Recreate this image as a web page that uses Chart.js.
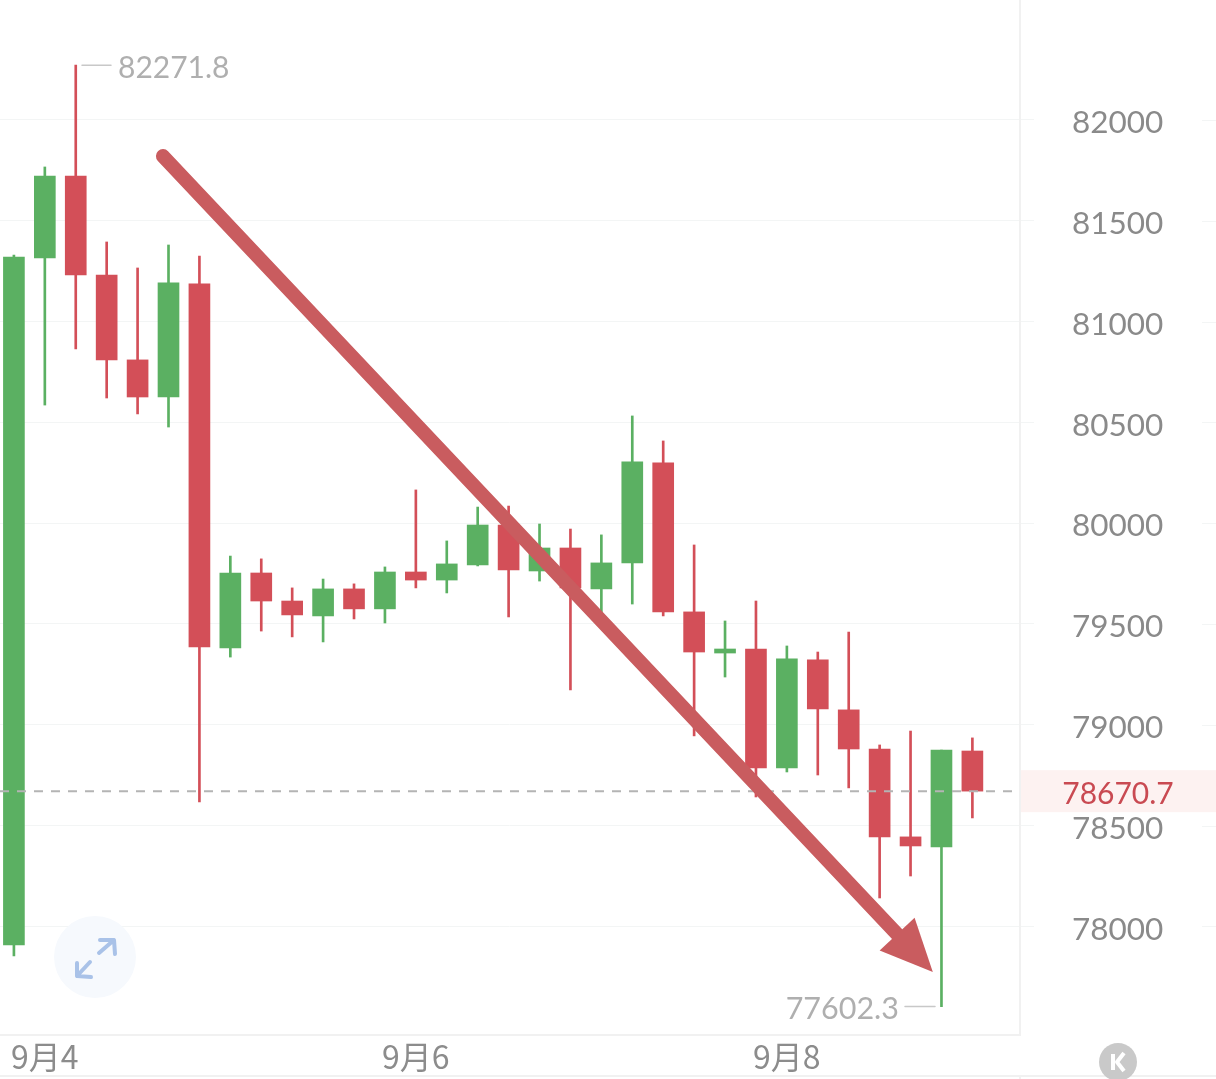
<!DOCTYPE html>
<html><head><meta charset="utf-8">
<style>html,body{margin:0;padding:0;background:#fff}canvas{display:block}</style>
<script src="https://cdn.jsdelivr.net/npm/chart.js@4"></script>
</head><body>
<canvas id="c" width="1216" height="1079"></canvas>
<script>
const opens  = [77908,81316,81722,81231,80810,80626,81187,79381,79753,79614,79540,79674,79575,79758,79718,79793,79991,79763,79877,79674,79803,80299,79560,79356,79376,78786,79322,79074,78880,78444,78394,78870];
const closes = [81320,81722,81231,80810,80626,81192,79386,79753,79614,79545,79674,79575,79758,79718,79798,79991,79768,79877,79679,79803,80304,79560,79361,79376,78786,79327,79079,78880,78444,78399,78875,78671];
const highs  = [81330,81767,82271.8,81395,81266,81380,81325,79837,79823,79679,79723,79699,79783,80165,79912,80080,80085,79996,79971,79942,80532,80408,79892,79515,79614,79391,79361,79460,78900,78969,78875,78935];
const lows   = [77853,80586,80864,80621,80542,80477,78617,79336,79465,79436,79411,79525,79505,79679,79654,79788,79535,79713,79173,79560,79599,79540,78945,79237,78642,78766,78751,78687,78141,78250,77602.3,78538];
const yTicks = [78000,78500,79000,79500,80000,80500,81000,81500,82000];
const xTickIdx = [1,13,25];
const xTickLabels = ['9月4','9月6','9月8'];
const lastPrice = 78670.7;
const highLabel = '82271.8', lowLabel = '77602.3';
const arrowFrom = [4.82,81821], arrowTip = [29.72,77774];
const priceLine = [-0.45,32.4];

const GREEN='#5bb062', RED='#d34f58', GRID='#f3f5f5', LINE='#f1f1f1';
const FONT='Lato, "Noto Sans", sans-serif';
const colors = opens.map((o,i)=>closes[i]>=o?GREEN:RED);

const overlay = {
  id:'overlay',
  beforeDatasetsDraw(ch){
    const g=ch.ctx, y=ch.scales.y;
    g.save();
    g.fillStyle='#fdf2f1'; const py=y.getPixelForValue(lastPrice);
    g.fillRect(1021,py-21,195,42);
    g.strokeStyle=GRID; g.lineWidth=1;
    yTicks.forEach(t=>{const p=Math.round(y.getPixelForValue(t))+.5;g.beginPath();g.moveTo(1202,p);g.lineTo(1216,p);g.stroke();});
    g.fillStyle=LINE; g.fillRect(0,1075,1216,2); g.fillRect(1019,1077,2,2);
    g.fillStyle='#f6f9fd'; g.beginPath(); g.arc(95,957,41,0,Math.PI*2); g.fill();
    g.strokeStyle='#a9c2e8'; g.lineWidth=4; g.lineCap='round'; g.lineJoin='round';
    g.beginPath(); g.moveTo(99,953); g.lineTo(114,940); g.moveTo(100,940); g.lineTo(114,940); g.lineTo(115,954);
    g.moveTo(90,962); g.lineTo(77,976); g.moveTo(77,963); g.lineTo(77,976); g.lineTo(91,977); g.stroke();
    g.fillStyle='#c9c9c9'; g.beginPath(); g.arc(1118,1062,19,0,Math.PI*2); g.fill();
    g.strokeStyle='#fff'; g.lineWidth=4; g.lineCap='butt';
    g.beginPath(); g.moveTo(1113,1054); g.lineTo(1113,1070); g.stroke();
    g.beginPath(); g.moveTo(1124,1053); g.lineTo(1117,1062); g.lineTo(1124,1071); g.stroke();
    g.restore();
  },
  afterDatasetsDraw(ch){
    const g=ch.ctx, x=ch.scales.x, y=ch.scales.y;
    g.save();
    const x0=x.getPixelForValue(arrowFrom[0]), y0=y.getPixelForValue(arrowFrom[1]);
    const x1=x.getPixelForValue(arrowTip[0]), y1=y.getPixelForValue(arrowTip[1]);
    const L=Math.hypot(x1-x0,y1-y0), ux=(x1-x0)/L, uy=(y1-y0)/L;
    const hx=x1-ux*52, hy=y1-uy*52;
    g.strokeStyle='#c95c5f'; g.fillStyle='#c95c5f'; g.lineWidth=14; g.lineCap='round';
    g.beginPath(); g.moveTo(x0,y0); g.lineTo(hx,hy); g.stroke();
    g.beginPath(); g.moveTo(x1,y1); g.lineTo(hx-uy*24,hy+ux*24); g.lineTo(hx+uy*24,hy-ux*24); g.closePath(); g.fill();
    g.font='30px '+FONT; g.textBaseline='middle'; g.fillStyle='#afafaf'; g.strokeStyle='#c8c8c8'; g.lineWidth=1.5;
    const hiY=y.getPixelForValue(Math.max(...highs)), loY=y.getPixelForValue(Math.min(...lows));
    g.textAlign='left'; g.fillText(highLabel,118,hiY+3);
    g.beginPath(); g.moveTo(82,hiY); g.lineTo(111,hiY); g.stroke();
    g.textAlign='right'; g.font='30.5px '+FONT; g.fillText(lowLabel,899,loY+3);
    g.beginPath(); g.moveTo(905,loY); g.lineTo(935,loY); g.stroke();
    g.textAlign='center'; g.font='30px '+FONT; g.fillStyle='#c94a52';
    g.fillText(lastPrice.toFixed(1),1118,y.getPixelForValue(lastPrice)+3);
    g.restore();
  }
};

new Chart(document.getElementById('c'),{
  type:'bar',
  data:{datasets:[
    {type:'line',data:priceLine.map(v=>({x:v,y:lastPrice})),borderColor:'#b4b4b4',borderWidth:2,borderDash:[9,8],pointRadius:0,order:1},
    {data:opens.map((o,i)=>({x:i,y:[o,closes[i]]})),backgroundColor:colors,barThickness:21,grouped:false,order:2},
    {data:lows.map((l,i)=>({x:i,y:[l,highs[i]]})),backgroundColor:colors,barThickness:2,grouped:false,order:3}
  ]},
  options:{
    responsive:false,animation:false,events:[],
    layout:{padding:0},
    plugins:{legend:{display:false},tooltip:{enabled:false},title:{display:false}},
    scales:{
      x:{type:'linear',offset:false,min:-0.45,max:32.54,
        grid:{display:false},border:{color:LINE,width:2},
        afterBuildTicks(s){s.ticks=xTickIdx.map(v=>({value:v}));},
        afterFit(s){s.height=44;s.paddingLeft=0;s.paddingRight=0;},
        ticks:{autoSkip:false,maxRotation:0,padding:-5,color:'#8c8c8c',
          font:{family:'"Noto Sans CJK SC",'+FONT,size:32},
          callback(v){return xTickLabels[xTickIdx.indexOf(v)];}}
      },
      y:{type:'linear',position:'right',min:77461.3,max:82595.2,
        grid:{color:GRID,lineWidth:1,tickLength:14,tickColor:GRID},border:{color:LINE,width:2},
        afterBuildTicks(s){s.ticks=yTicks.map(v=>({value:v}));},
        afterFit(s){s.width=196;s.paddingTop=0;s.paddingBottom=0;},
        ticks:{color:'#8a8a8a',padding:38,labelOffset:3,crossAlign:'center',font:{family:FONT,size:31.5},
          callback(v){return String(v);}}
      }
    }
  },
  plugins:[overlay]
});
</script>
</body></html>
